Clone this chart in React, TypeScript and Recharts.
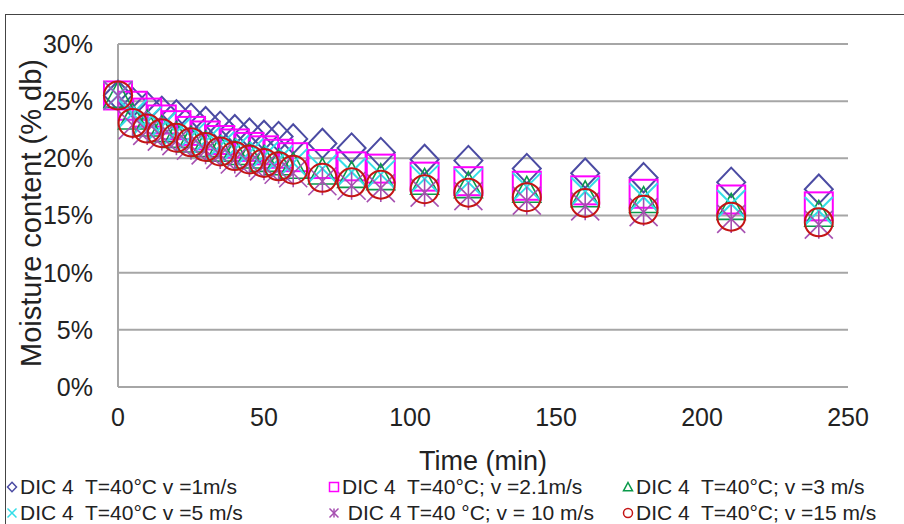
import { CartesianGrid, Scatter, ScatterChart, XAxis, YAxis } from 'recharts';

const times = [0, 5, 10, 15, 20, 25, 30, 35, 40, 45, 50, 55, 60, 70, 80, 90, 105, 120, 140, 160, 180, 210, 240];

// moisture content, % db
const v1 = [25.5, 24.9, 24.5, 24.1, 23.8, 23.5, 23.2, 22.8, 22.5, 22.2, 22.0, 21.9, 21.7, 21.3, 20.9, 20.5, 19.9, 19.8, 19.1, 18.7, 18.3, 17.9, 17.3];
const v21 = [25.5, 24.6, 24.0, 23.4, 22.9, 22.4, 22.0, 21.6, 21.3, 21.0, 20.7, 20.4, 20.1, 19.5, 19.3, 19.1, 18.4, 18.0, 17.6, 17.2, 16.9, 16.4, 15.8];
const v3 = [25.5, 23.6, 23.0, 22.5, 22.0, 21.6, 21.2, 20.8, 20.5, 20.2, 19.9, 19.6, 19.3, 18.8, 18.5, 18.3, 17.9, 17.6, 17.2, 16.8, 16.3, 15.7, 15.1];
const v5 = [25.5, 23.9, 23.3, 22.8, 22.3, 21.9, 21.5, 21.1, 20.8, 20.5, 20.2, 19.9, 19.6, 19.1, 18.8, 18.6, 18.2, 17.9, 17.5, 17.1, 16.6, 16.0, 15.4];
const v10 = [25.5, 22.9, 22.4, 21.9, 21.5, 21.1, 20.7, 20.3, 19.9, 19.6, 19.3, 19.0, 18.7, 18.0, 17.6, 17.4, 17.0, 16.7, 16.3, 15.8, 15.3, 14.7, 14.2];
const v15 = [25.5, 23.1, 22.6, 22.2, 21.8, 21.4, 21.0, 20.6, 20.2, 19.9, 19.6, 19.3, 19.0, 18.3, 17.9, 17.7, 17.3, 17.0, 16.6, 16.1, 15.5, 14.9, 14.4];

const xTicks = [0, 50, 100, 150, 200, 250];
const yTicks = [0, 5, 10, 15, 20, 25, 30];

const labels = [
  'DIC 4  T=40°C v =1m/s',
  'DIC 4  T=40°C; v =2.1m/s',
  'DIC 4  T=40°C; v =3 m/s',
  'DIC 4  T=40°C v =5 m/s',
  ' DIC 4 T=40 °C; v = 10 m/s',
  'DIC 4  T=40°C; v =15 m/s',
];

const toData = (vals: number[]) => times.map((t, i) => ({ t, v: vals[i] }));

type MarkerKind = 'diamond' | 'square' | 'triangle' | 'x' | 'star' | 'circle';

const colors: Record<MarkerKind, string> = {
  diamond: '#4B4BA3',
  square: '#FF00FF',
  triangle: '#0A9A4A',
  x: '#33DDE8',
  star: '#A64FB0',
  circle: '#C41515',
};

const drawMarker = (kind: MarkerKind, cx: number, cy: number, s: number, sw: number) => {
  const c = colors[kind];
  switch (kind) {
    case 'diamond':
      return <polygon points={`${cx},${cy - s * 1.05} ${cx + s},${cy} ${cx},${cy + s * 1.05} ${cx - s},${cy}`} fill="none" stroke={c} strokeWidth={sw} />;
    case 'square':
      return <rect x={cx - s} y={cy - s} width={s * 2} height={s * 2} fill="none" stroke={c} strokeWidth={sw} />;
    case 'triangle':
      return <polygon points={`${cx},${cy - s} ${cx + s},${cy + s * 0.85} ${cx - s},${cy + s * 0.85}`} fill="none" stroke={c} strokeWidth={sw} />;
    case 'x':
      return (
        <g stroke={c} strokeWidth={sw}>
          <line x1={cx - s} y1={cy - s} x2={cx + s} y2={cy + s} />
          <line x1={cx - s} y1={cy + s} x2={cx + s} y2={cy - s} />
        </g>
      );
    case 'star':
      return (
        <g stroke={c} strokeWidth={sw}>
          <line x1={cx - s} y1={cy - s} x2={cx + s} y2={cy + s} />
          <line x1={cx - s} y1={cy + s} x2={cx + s} y2={cy - s} />
          <line x1={cx} y1={cy - s} x2={cx} y2={cy + s} />
        </g>
      );
    default:
      return <circle cx={cx} cy={cy} r={s} fill="none" stroke={c} strokeWidth={sw} />;
  }
};

const shapeFor = (kind: MarkerKind) => (props: any) => {
  const { cx, cy } = props;
  return drawMarker(kind, cx, cy, 14, kind === 'star' || kind === 'triangle' ? 1.6 : 2);
};

const series: { kind: MarkerKind; vals: number[] }[] = [
  { kind: 'diamond', vals: v1 },
  { kind: 'square', vals: v21 },
  { kind: 'triangle', vals: v3 },
  { kind: 'x', vals: v5 },
  { kind: 'star', vals: v10 },
  { kind: 'circle', vals: v15 },
];

const font = 'Arial, "Liberation Sans", sans-serif';

const LegendItem = ({ kind, text, left, top }: { kind: MarkerKind; text: string; left: number; top: number }) => (
  <div
    style={{
      position: 'absolute',
      left,
      top,
      height: 20,
      lineHeight: '20px',
      display: 'flex',
      alignItems: 'center',
      whiteSpace: 'pre',
      fontSize: 21,
      color: '#222',
      fontFamily: font,
    }}
  >
    <svg width={12} height={12} style={{ marginRight: 2 }}>
      {drawMarker(kind, 6, 6, 4.5, 1.5)}
    </svg>
    <span>{text}</span>
  </div>
);

export default function App() {
  return (
    <div style={{ position: 'absolute', left: 0, top: 0, width: 904, height: 524, overflow: 'hidden', background: '#fff', fontFamily: font }}>
      <div style={{ position: 'absolute', left: 5, top: 14, width: 940, height: 560, border: '1.5px solid #444' }} />
      <ScatterChart width={904} height={524} margin={{ top: 44, right: 56, bottom: 77, left: 0 }}>
        <CartesianGrid horizontal vertical={false} stroke="#A6A6A6" strokeWidth={2} />
        <XAxis
          type="number"
          dataKey="t"
          domain={[0, 250]}
          ticks={xTicks}
          height={60}
          tickLine={false}
          tickSize={0}
          tickMargin={21}
          axisLine={{ stroke: '#A6A6A6', strokeWidth: 2 }}
          tick={{ fontSize: 25, fill: '#222', fontFamily: font }}
        />
        <YAxis
          type="number"
          dataKey="v"
          domain={[0, 30]}
          ticks={yTicks}
          width={118}
          tickLine={false}
          tickSize={0}
          tickMargin={25}
          tickFormatter={(v: number) => `${v}%`}
          axisLine={{ stroke: '#A6A6A6', strokeWidth: 2 }}
          tick={{ fontSize: 25, fill: '#222', fontFamily: font }}
        />
        {series.map((s) => (
          <Scatter key={s.kind} data={toData(s.vals)} shape={shapeFor(s.kind)} isAnimationActive={false} />
        ))}
      </ScatterChart>
      <div style={{ position: 'absolute', left: 0, width: 966, top: 446, textAlign: 'center', fontSize: 27, color: '#222' }}>Time (min)</div>
      <div
        style={{
          position: 'absolute',
          left: 31,
          top: 213,
          transform: 'translate(-50%, -50%) rotate(-90deg)',
          whiteSpace: 'nowrap',
          fontSize: 29,
          color: '#222',
        }}
      >
        Moisture content (% db)
      </div>
      <LegendItem kind="diamond" text={labels[0]} left={6} top={477} />
      <LegendItem kind="square" text={labels[1]} left={328} top={477} />
      <LegendItem kind="triangle" text={labels[2]} left={622} top={477} />
      <LegendItem kind="x" text={labels[3]} left={6} top={503} />
      <LegendItem kind="star" text={labels[4]} left={328} top={503} />
      <LegendItem kind="circle" text={labels[5]} left={622} top={503} />
    </div>
  );
}
